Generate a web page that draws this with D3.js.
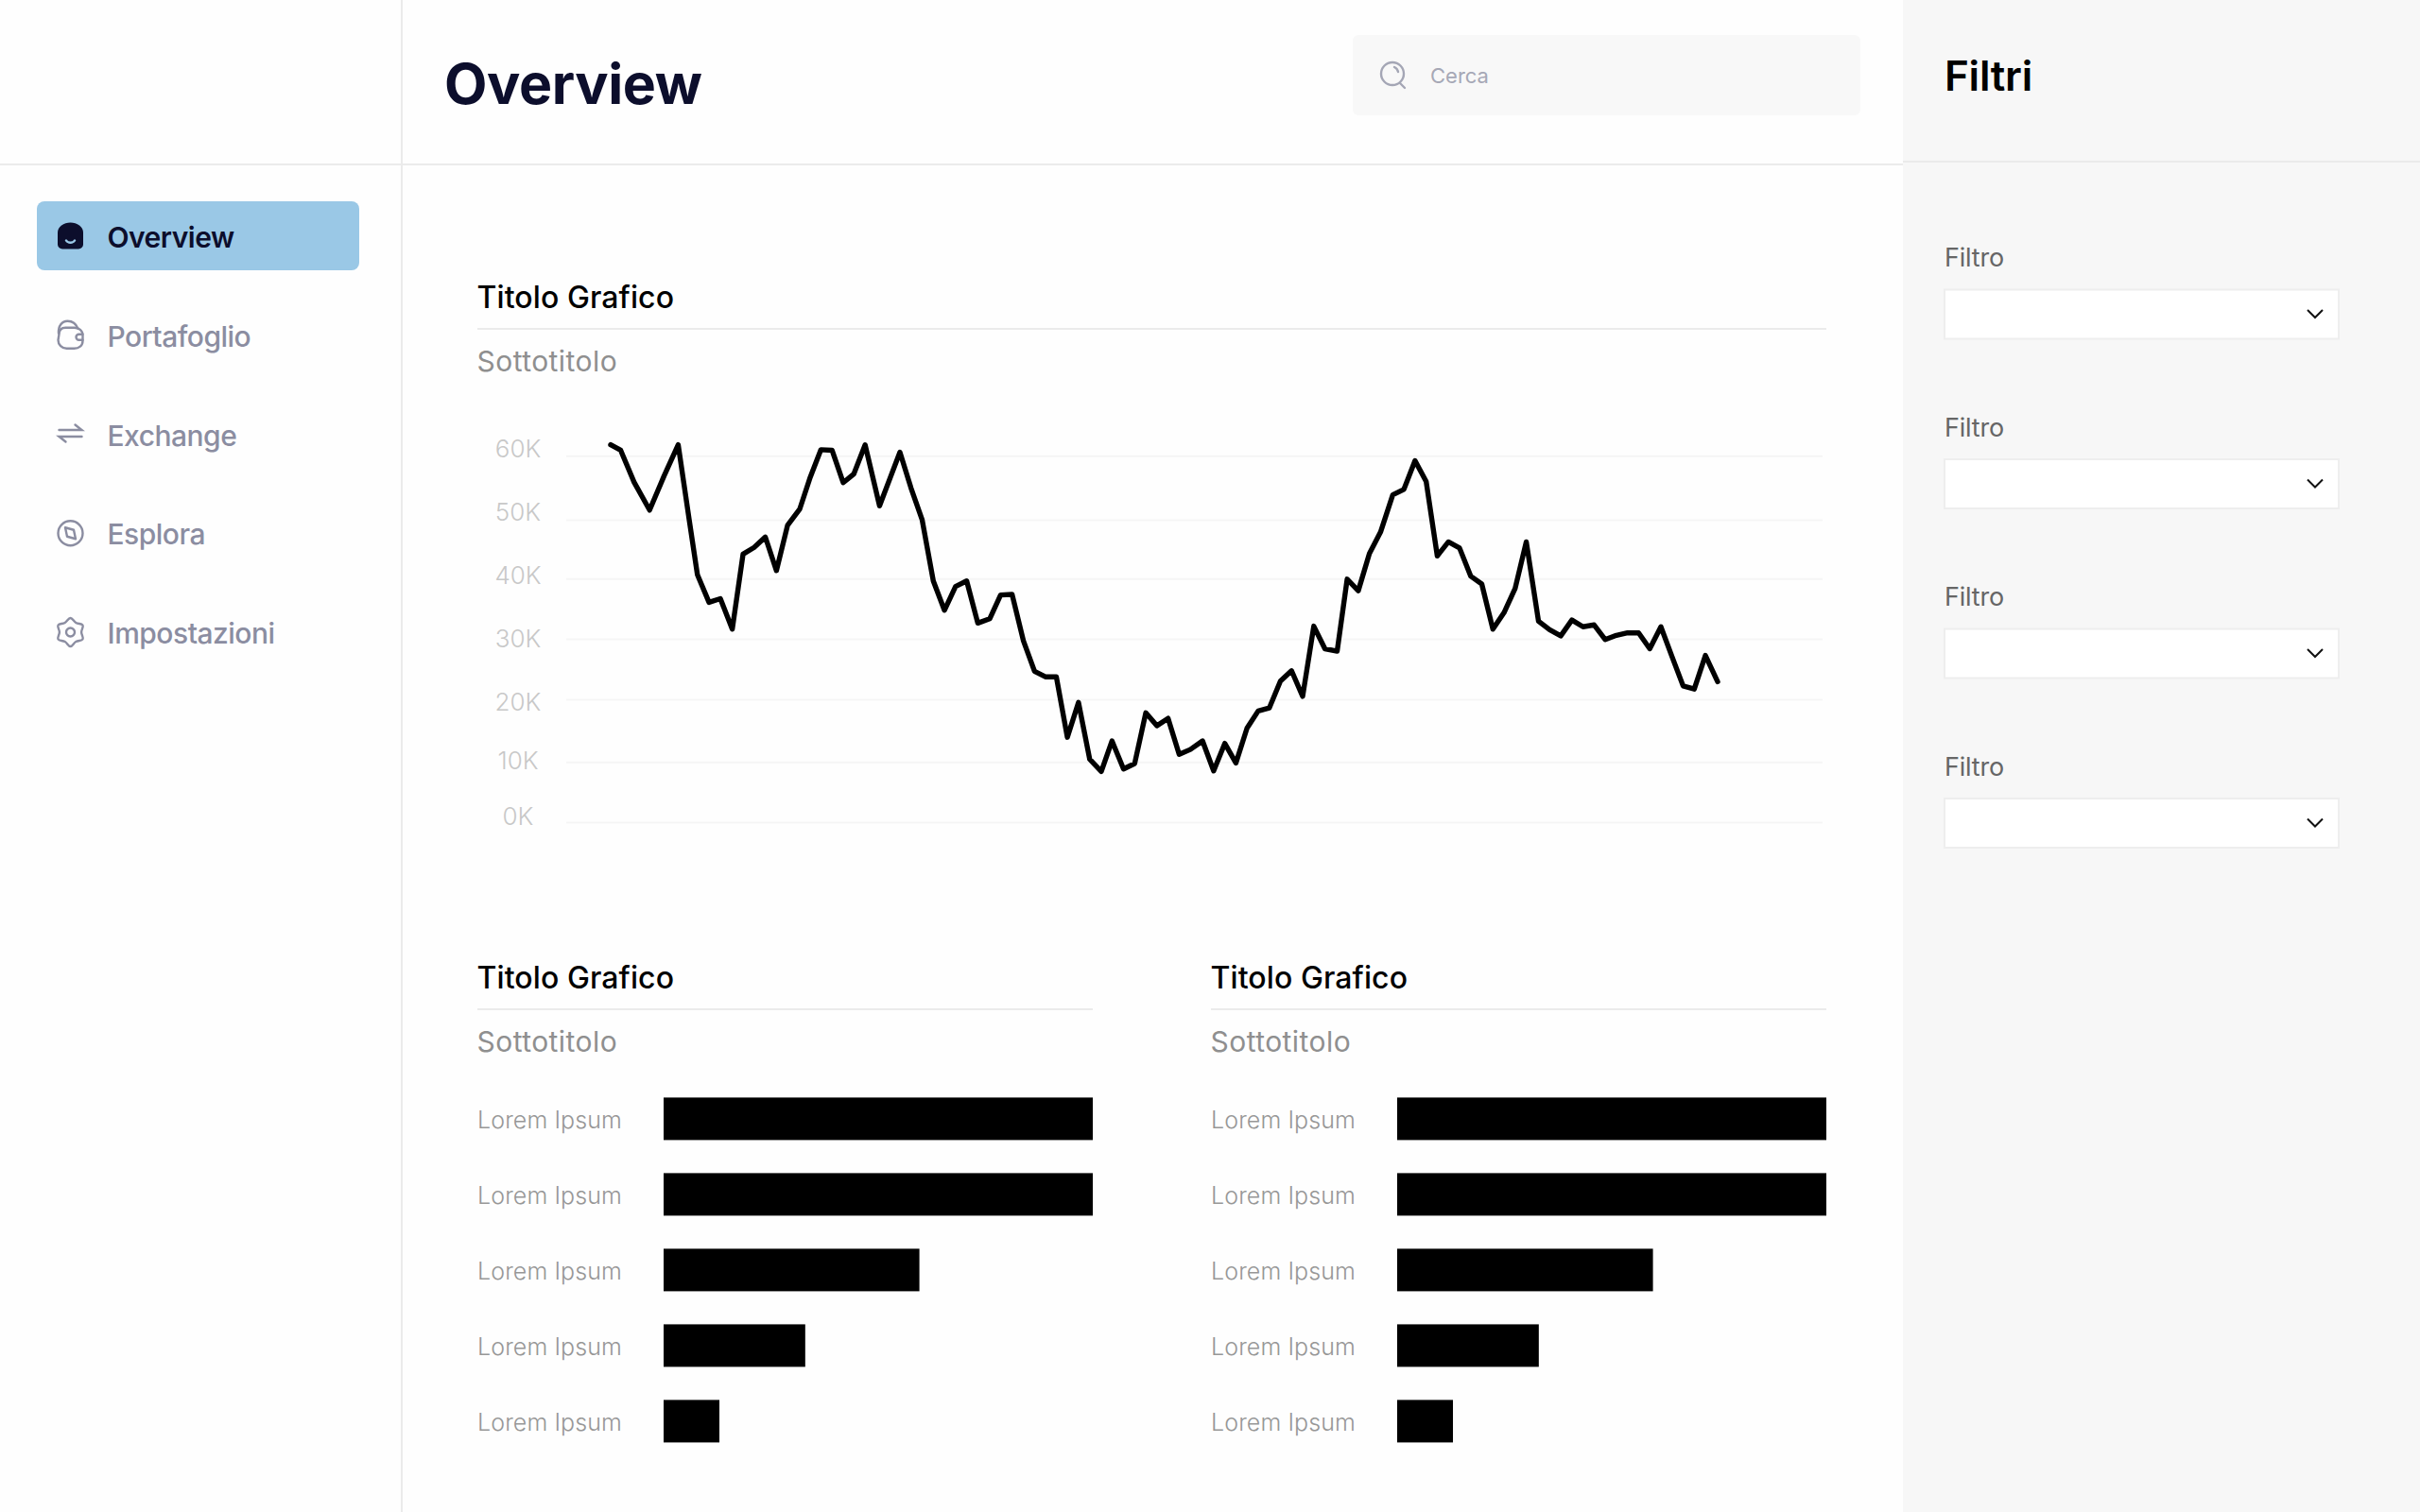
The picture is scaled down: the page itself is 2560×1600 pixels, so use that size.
<!DOCTYPE html>
<html>
<head>
<meta charset="utf-8">
<script src="https://cdn.jsdelivr.net/npm/d3@7"></script>
<style>
  html, body { margin: 0; padding: 0; background: #fefefe; }
  svg { display: block; font-family: Inter, "Noto Sans", sans-serif; }
</style>
</head>
<body>
<svg id="page"></svg>
<script>
// Testi
const pageTitle = "Overview";
const searchLabel = "Cerca";
const panelTitle = "Filtri";
const filterLabels = ["Filtro", "Filtro", "Filtro", "Filtro"];
const navLabels = ["Overview", "Portafoglio", "Exchange", "Esplora", "Impostazioni"];
const chartTitle = "Titolo Grafico";
const chartSubtitle = "Sottotitolo";

// Viivakaavio
const yTicks = [0, 10000, 20000, 30000, 40000, 50000, 60000];
const lineSteps = [0, 0.9, 2.1, 3.5, 4.8, 6.07, 7.06, 7.8, 8.84, 9.86, 10.93, 11.9, 12.9, 13.9, 14.9, 15.9,
    17, 17.94, 18.9, 19.9, 20.9, 21.85, 22.87, 24.17, 26, 27, 28, 29, 30, 31, 32, 33, 34.07, 35.05, 36.08,
    37.1, 38.1, 39.07, 40.06, 41.05, 42.05, 43.06, 44.1, 45.06, 46.1, 47.1, 48.1, 49.1, 50.1, 51.1, 52.1,
    53.2, 54.2, 55.2, 56.2, 57.2, 58.2, 59.2, 60.2, 61.2, 62.2, 63.2, 64.2, 65.3, 66.2, 67.2, 68.2, 69.2,
    70.3, 71.3, 72.3, 73.3, 74.3, 75.3, 76.3, 77.3, 78.3, 79.3, 80.3, 81.3, 82.3, 83.4, 84.4, 85.4, 86.4,
    87.4, 88.4, 89.4, 90.4, 91.4, 92.4, 93.4, 94.4, 95.4, 96.4, 97.4, 98.4, 99.5];
const lineValues = [61800, 60900, 55700, 51100, 56700, 61800, 49500, 40500, 36000, 36600, 31600, 43900, 45000,
    46700, 41200, 48600, 51300, 56500, 61000, 60900, 55600, 57000, 61800, 51800, 60600, 54700, 49500, 39500,
    34700, 38600, 39500, 32600, 33300, 37200, 37300, 29700, 24700, 23800, 23800, 13900, 19600, 10300, 8300,
    13300, 8700, 9600, 17900, 15800, 17000, 11100, 11900, 13300, 8400, 12900, 9700, 15400, 18200, 18700,
    23100, 24800, 20600, 32100, 28400, 28000, 39800, 37900, 44000, 47500, 53600, 54500, 59200, 55800, 43600,
    45900, 44900, 40300, 39000, 31600, 34300, 38300, 45900, 32900, 31500, 30500, 33100, 32000, 32300, 29900,
    30600, 31000, 31000, 28400, 32000, 27100, 22300, 21800, 27300, 23000];

// Pylväskaaviot
const barLabels = ["Lorem Ipsum", "Lorem Ipsum", "Lorem Ipsum", "Lorem Ipsum", "Lorem Ipsum"];
const barValues = [100, 100, 59.6, 33, 13];

const svg = d3.select("#page")
    .attr("width", 2560)
    .attr("height", 1600)
    .attr("viewBox", "0 0 2560 1600");

const ink = "#0c0e2c";
const muted = "#8b8da1";
const rule = "#ebebeb";
const activeFill = "#9ac8e6";

svg.append("rect").attr("width", 2560).attr("height", 1600).attr("fill", "#fefefe");

// 1. Sivun rakenne
svg.append("rect").attr("x", 2013).attr("width", 547).attr("height", 1600).attr("fill", "#f7f7f7");
svg.append("line").attr("x1", 425).attr("x2", 425).attr("y1", 0).attr("y2", 1600)
    .attr("stroke", rule).attr("stroke-width", 2);
svg.append("line").attr("x1", 0).attr("x2", 2013).attr("y1", 174).attr("y2", 174)
    .attr("stroke", rule).attr("stroke-width", 2);
svg.append("line").attr("x1", 2013).attr("x2", 2560).attr("y1", 171).attr("y2", 171)
    .attr("stroke", rule).attr("stroke-width", 2);

svg.append("text").attr("x", 470).attr("y", 110).attr("font-size", 59).attr("font-weight", 700)
    .attr("letter-spacing", -0.4).attr("fill", ink).text(pageTitle);

// Hakukenttä
svg.append("rect").attr("x", 1431).attr("y", 37).attr("width", 537).attr("height", 85).attr("rx", 6)
    .attr("fill", "#f8f8f8");
const searchIcon = svg.append("g").attr("transform", "translate(1473, 79)")
    .attr("fill", "none").attr("stroke", "#a4a6b5").attr("stroke-width", 2.4).attr("stroke-linecap", "round");
searchIcon.append("circle").attr("cy", -1).attr("r", 12);
searchIcon.append("path").attr("d", "M8 9 L13 14 M2 -8 A7 7 0 0 1 6 -3");
svg.append("text").attr("x", 1513).attr("y", 88).attr("font-size", 22).attr("fill", "#a6a8b6").text(searchLabel);

// 2. Navigaatio
svg.append("rect").attr("x", 39).attr("y", 213).attr("width", 341).attr("height", 73).attr("rx", 8)
    .attr("fill", activeFill);

const navY = d3.scalePoint().domain(navLabels).range([250, 669]);

const gearOutline = d3.lineRadial()
    .angle((d, i) => i * Math.PI / 6)
    .radius((d, i) => i % 2 === 0 ? 15 : 11.6)
    .curve(d3.curveCardinalClosed.tension(-0.2));

const navIcons = [
    g => {
        g.append("path")
            .attr("d", "M-13.5 -4 C-13.5 -10 -7 -14.5 0 -14.5 C7 -14.5 13.5 -10 13.5 -4 V8.5 A5 5 0 0 1 8.5 13.5 H-8.5 A5 5 0 0 1 -13.5 8.5 Z")
            .attr("fill", ink);
        g.append("path").attr("d", "M-4.5 4.5 A5 4 0 0 0 4.5 4.5").attr("fill", "none").attr("stroke", activeFill)
            .attr("stroke-width", 2.4).attr("stroke-linecap", "round");
    },
    g => {
        g.append("path").attr("d", "M-12 -1 C-12 -6 -9 -8 -5 -8 H4 C9 -8 13 -5 13 0 V6 C13 11 9 14 4 14 H-4 C-9 14 -13 10 -13 5 Z");
        g.append("path").attr("d", "M-12.5 -2 C-13 -10 -9 -15 -3 -15 C2 -15 6 -12 8 -7");
        g.append("path").attr("d", "M13 -1 H9 A3 3 0 0 0 9 5 H13");
    },
    g => {
        g.append("path").attr("d", "M-12 -4.5 H12 L5 -10 M12 2.5 H-12 L-5 8");
    },
    g => {
        g.append("circle").attr("r", 13);
        g.append("path").attr("d", "M-5.5 -6 L3.5 -3.5 L5.5 6 L-3.5 3.5 Z").attr("stroke-linejoin", "round");
    },
    g => {
        g.append("path").attr("d", gearOutline(d3.range(12))).attr("stroke-linejoin", "round");
        g.append("circle").attr("r", 4.5);
    }
];

const navItems = svg.append("g").selectAll("g")
    .data(navLabels)
    .enter()
    .append("g")
    .attr("transform", d => `translate(0, ${navY(d)})`);

navItems.append("g")
    .attr("transform", "translate(74.5, 0)")
    .attr("fill", "none")
    .attr("stroke", (d, i) => i === 0 ? "none" : muted)
    .attr("stroke-width", 2.4)
    .attr("stroke-linecap", "round")
    .each(function(d, i) { navIcons[i](d3.select(this)); });

navItems.append("text")
    .attr("x", 113.5)
    .attr("y", 12)
    .attr("font-size", 30)
    .attr("font-weight", (d, i) => i === 0 ? 600 : 500)
    .attr("letter-spacing", -0.5)
    .attr("fill", (d, i) => i === 0 ? ink : muted)
    .text(d => d);

// 3. Otsikot
function drawHeading(x, baseline, width) {
    svg.append("text").attr("x", x - 0.5).attr("y", baseline).attr("font-size", 32).attr("font-weight", 500)
        .attr("letter-spacing", 0.1).attr("fill", "#000").text(chartTitle);
    svg.append("line").attr("x1", x).attr("x2", x + width).attr("y1", baseline + 22).attr("y2", baseline + 22)
        .attr("stroke", rule).attr("stroke-width", 2);
    svg.append("text").attr("x", x - 0.5).attr("y", baseline + 67).attr("font-size", 30)
        .attr("letter-spacing", 0.45).attr("fill", "#8f8f8f").text(chartSubtitle);
}

drawHeading(505, 326, 1427);
drawHeading(505, 1046, 651);
drawHeading(1281, 1046, 651);

// 4. Viivakaavio
const gridLeft = 599;
const gridRight = 1928;

// Ruudukko ja tekstit eivät ole kuvassa tasavälein, joten niillä on omat asteikot
const yScaleGrid = d3.scaleLinear().domain(yTicks).range([870, 806.3, 740, 676, 612.3, 550, 482.3]);
const yScaleLabels = d3.scaleLinear().domain(yTicks).range([864, 805, 742.7, 676, 609, 541.7, 475]);
const yScale = d3.scaleLinear().domain([0, 60000]).range([870, 482.3]);
const xScale = d3.scaleLinear().domain([0, 99.5]).range([646, 1817]);

const gridGroup = svg.append("g").attr("transform", `translate(${gridLeft}, 0)`);
gridGroup.call(d3.axisLeft(yScaleGrid).tickValues(yTicks).tickSize(-(gridRight - gridLeft)).tickFormat(""));
gridGroup.select(".domain").remove();
gridGroup.selectAll("line").attr("stroke", "#f5f5f5").attr("stroke-width", 2);

const labelGroup = svg.append("g").attr("transform", `translate(${gridLeft}, 0)`);
labelGroup.call(d3.axisLeft(yScaleLabels).tickValues(yTicks).tickSize(0).tickFormat(d => (d / 1000) + "K"));
labelGroup.select(".domain").remove();
labelGroup.selectAll("text")
    .attr("x", -51)
    .attr("text-anchor", "middle")
    .attr("font-family", "Inter, sans-serif")
    .attr("font-size", 26)
    .attr("font-weight", 300)
    .attr("fill", "#c8c8c8");

const line = d3.line()
    .x(d => xScale(d))
    .y((d, i) => yScale(lineValues[i]));

svg.append("path")
    .datum(lineSteps)
    .attr("d", line)
    .attr("fill", "none")
    .attr("stroke", "#000")
    .attr("stroke-width", 5.4)
    .attr("stroke-linejoin", "round")
    .attr("stroke-linecap", "round");

// 5. Pylväskaaviot
function drawBars(left) {
    const barLeft = left + 197;
    const xBar = d3.scaleLinear().domain([0, 100]).range([0, 454]);
    const yBar = d3.scaleBand()
        .domain(barValues.map((d, i) => i))
        .range([1161.4, 1526.4])
        .paddingInner(0.4375);

    const group = svg.append("g").attr("transform", `translate(${barLeft}, 0)`);
    group.selectAll("rect")
        .data(barValues)
        .enter()
        .append("rect")
        .attr("x", 0)
        .attr("y", (d, i) => yBar(i))
        .attr("width", d => xBar(d))
        .attr("height", yBar.bandwidth())
        .attr("fill", "#000");

    const axisGroup = group.append("g");
    axisGroup.call(d3.axisLeft(yBar).tickSize(0).tickFormat(i => barLabels[i]));
    axisGroup.select(".domain").remove();
    axisGroup.selectAll("text")
        .attr("x", -197)
        .attr("dy", 10.5)
        .attr("text-anchor", "start")
        .attr("font-family", "Inter, sans-serif")
        .attr("font-size", 25)
        .attr("font-weight", 300)
        .attr("letter-spacing", 0.1)
        .attr("fill", "#979797");
}

drawBars(505);
drawBars(1281);

// 6. Suodattimet
svg.append("text").attr("x", 2057).attr("y", 96).attr("font-size", 44).attr("font-weight", 600)
    .attr("letter-spacing", -0.25).attr("fill", "#000").text(panelTitle);

const filterY = d3.scalePoint().domain(d3.range(filterLabels.length)).range([282, 820.5]);

const filters = svg.append("g").selectAll("g")
    .data(filterLabels)
    .enter()
    .append("g")
    .attr("transform", (d, i) => `translate(2057, ${filterY(i)})`);

filters.append("text")
    .attr("x", 0)
    .attr("font-size", 27)
    .attr("font-weight", 400)
    .attr("letter-spacing", -0.2)
    .attr("fill", "#666")
    .text(d => d);

filters.append("rect")
    .attr("y", 24.5)
    .attr("width", 417)
    .attr("height", 52)
    .attr("fill", "#fff")
    .attr("stroke", "#eeeeee")
    .attr("stroke-width", 2);

filters.append("path")
    .attr("d", "M384 46 L392 54 L400 46")
    .attr("fill", "none")
    .attr("stroke", "#111")
    .attr("stroke-width", 2);
</script>
</body>
</html>
